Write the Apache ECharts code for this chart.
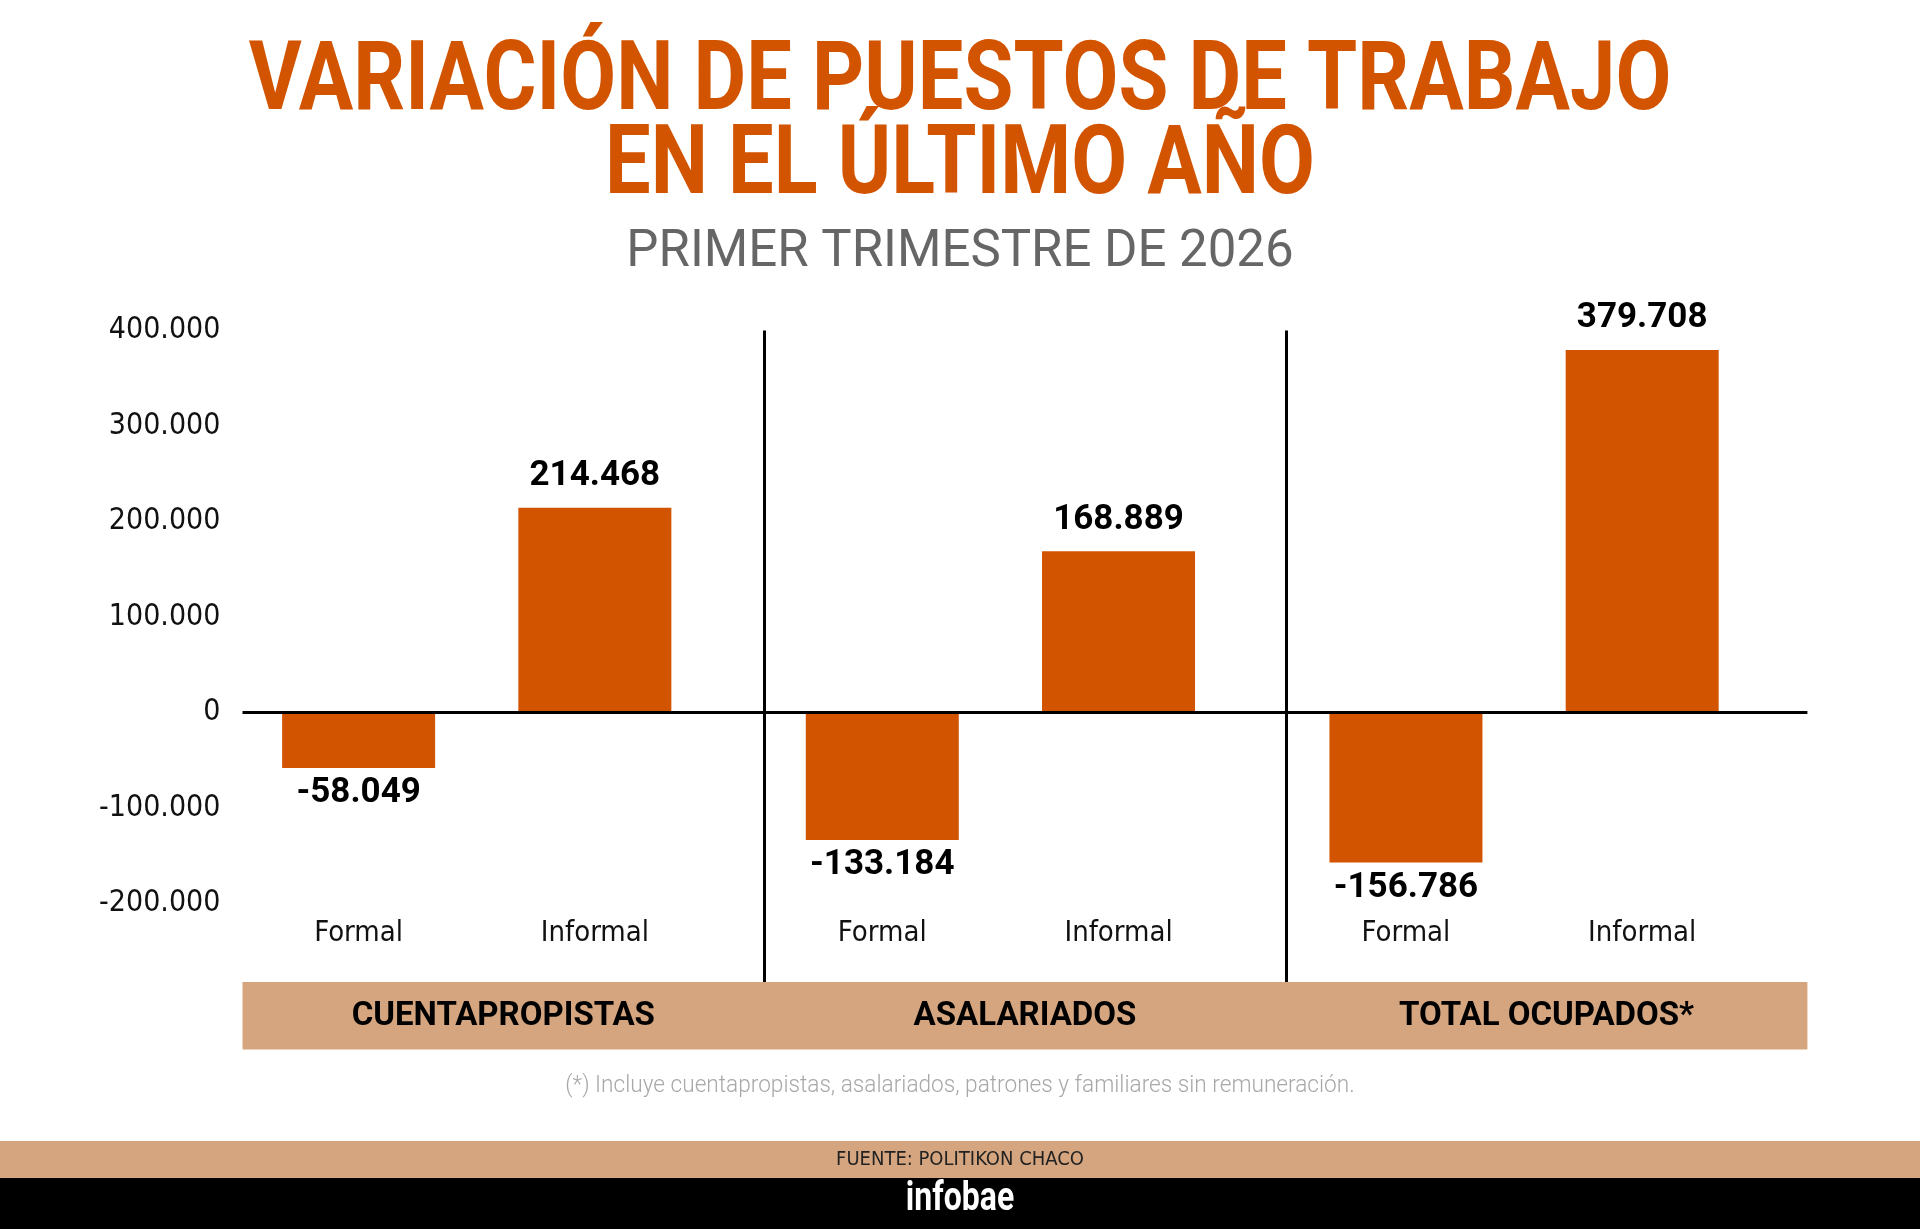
<!DOCTYPE html>
<html>
<head>
<meta charset="utf-8">
<script src="https://cdn.jsdelivr.net/npm/echarts@6/dist/echarts.min.js"></script>
<style>
html,body{margin:0;padding:0;background:#fff;}
#chart{width:1920px;height:1229px;}
</style>
</head>
<body>
<div id="chart"></div>
<script>
// ---- data ----
const groups = ['CUENTAPROPISTAS', 'ASALARIADOS', 'TOTAL OCUPADOS*'];
const seriesNames = ['Formal', 'Informal'];
const formalValues = [-58049, -133184, -156786];
const informalValues = [214468, 168889, 379708];
const yMin = -200000;
const yMax = 400000;
const yInterval = 100000;

// ---- text ----
const titleLines = ['VARIACIÓN DE PUESTOS DE TRABAJO', 'EN EL ÚLTIMO AÑO'];
const subtitle = 'PRIMER TRIMESTRE DE 2026';
const footnote = '(*) Incluye cuentapropistas, asalariados, patrones y familiares sin remuneración.';
const source = 'FUENTE: POLITIKON CHACO';
const brand = 'infobae';

// ---- layout ----
const ORANGE = '#D35400';
const TAN = '#D4A57F';
const NARROW = "'Liberation Sans Narrow', 'Arial Narrow', 'DejaVu Sans Condensed', sans-serif";
const PLOT_TOP = 330.6, PLOT_BOTTOM = 903.7, BAND_TOP = 982, BAND_BOTTOM = 1049.4;
const FRAME_LEFT = 242.5, FRAME_RIGHT = 1807.4;
const BARS_LEFT = 214.9, BARS_WIDTH = 1571;
const BAR_W = 153, BAR_GAP = 83.3;
const frameMin = yMax - (BAND_TOP - PLOT_TOP) / (PLOT_BOTTOM - PLOT_TOP) * (yMax - yMin);

function fmt(v) {
  const s = Math.abs(v).toString().replace(/\B(?=(\d{3})+(?!\d))/g, '.');
  return (v < 0 ? '-' : '') + s;
}

function txt(text, x, y, font, fill, sx) {
  return {
    type: 'text', x: x, y: y, scaleX: sx || 1, z: 10,
    style: { text: text, font: font, fill: fill,
      textAlign: 'center', align: 'center',
      textVerticalAlign: 'middle', verticalAlign: 'middle' }
  };
}

const chart = echarts.init(document.getElementById('chart'), null, { renderer: 'canvas' });

const labelRich = {
  f: { width: BAR_W + BAR_GAP, align: 'center', fontFamily: NARROW, fontSize: 29, color: '#111', lineHeight: 40 },
  i: { width: BAR_W + BAR_GAP, align: 'center', fontFamily: NARROW, fontSize: 29, color: '#111', lineHeight: 40 }
};

const barLabel = {
  show: true,
  fontFamily: 'Roboto', fontWeight: 'bold', fontSize: 35, color: '#000',
  formatter: p => fmt(p.value)
};

chart.setOption({
  backgroundColor: '#fff',
  animation: false,
  graphic: [
    { type: 'rect', z: -10, shape: { x: FRAME_LEFT, y: BAND_TOP, width: FRAME_RIGHT - FRAME_LEFT, height: BAND_BOTTOM - BAND_TOP }, style: { fill: TAN } },
    { type: 'rect', z: -10, shape: { x: 0, y: 1141, width: 1920, height: 37 }, style: { fill: TAN } },
    { type: 'rect', z: -10, shape: { x: 0, y: 1178, width: 1920, height: 51 }, style: { fill: '#000' } },
    txt(titleLines[0], 960, 84.5, 'bold 96px Roboto', ORANGE, 0.845),
    txt(titleLines[1], 960, 169, 'bold 96px Roboto', ORANGE, 0.845),
    txt(subtitle, 960, 253, '52px Roboto', '#666', 0.98),
    txt(footnote, 960, 1086, '300 24px Roboto', '#a8a8a8', 0.943),
    txt(source, 960, 1160, "20px " + NARROW, '#222', 1),
    txt(brand, 960, 1200, 'bold 40px Roboto', '#fff', 0.8)
  ],
  grid: [
    { left: FRAME_LEFT, width: FRAME_RIGHT - FRAME_LEFT, top: PLOT_TOP, height: BAND_TOP - PLOT_TOP, containLabel: false },
    { left: BARS_LEFT, width: BARS_WIDTH, top: PLOT_TOP, height: PLOT_BOTTOM - PLOT_TOP, containLabel: false }
  ],
  xAxis: [
    {
      gridIndex: 0, type: 'category', data: groups, z: 5,
      axisLine: { show: false, onZero: false }, axisTick: { show: false },
      splitLine: { show: true, showMinLine: false, showMaxLine: false, lineStyle: { color: '#000', width: 3 } },
      axisLabel: { margin: 15, fontFamily: 'Roboto', fontWeight: 'bold', fontSize: 33, lineHeight: 40, color: '#000' }
    },
    {
      gridIndex: 1, type: 'category', data: groups,
      axisLine: { show: false, onZero: false }, axisTick: { show: false }, splitLine: { show: false },
      axisLabel: { margin: 10, formatter: () => '{f|' + seriesNames[0] + '}{i|' + seriesNames[1] + '}', rich: labelRich }
    }
  ],
  yAxis: [
    { gridIndex: 0, type: 'value', min: frameMin, max: yMax, show: false, splitLine: { show: false } },
    {
      gridIndex: 1, type: 'value', min: yMin, max: yMax, interval: yInterval,
      axisLine: { show: false }, axisTick: { show: false }, splitLine: { show: false },
      axisLabel: { margin: -5.5, formatter: v => fmt(v), fontFamily: NARROW, fontSize: 30, color: '#111' }
    }
  ],
  series: [
    {
      name: seriesNames[0], type: 'bar', xAxisIndex: 1, yAxisIndex: 1, data: formalValues,
      barWidth: BAR_W, barGap: (BAR_GAP / BAR_W * 100).toFixed(1) + '%',
      itemStyle: { color: ORANGE },
      label: Object.assign({ position: 'bottom', distance: 8 }, barLabel)
    },
    {
      name: seriesNames[1], type: 'bar', xAxisIndex: 1, yAxisIndex: 1, data: informalValues,
      barWidth: BAR_W, barGap: (BAR_GAP / BAR_W * 100).toFixed(1) + '%',
      itemStyle: { color: ORANGE },
      label: Object.assign({ position: 'top', distance: 14 }, barLabel)
    },
    {
      type: 'line', xAxisIndex: 0, yAxisIndex: 0, data: groups.map(() => null), silent: true,
      markLine: { silent: true, symbol: 'none', label: { show: false },
        lineStyle: { color: '#000', width: 3, type: 'solid' }, data: [{ yAxis: 0 }] }
    }
  ]
});
</script>
</body>
</html>
